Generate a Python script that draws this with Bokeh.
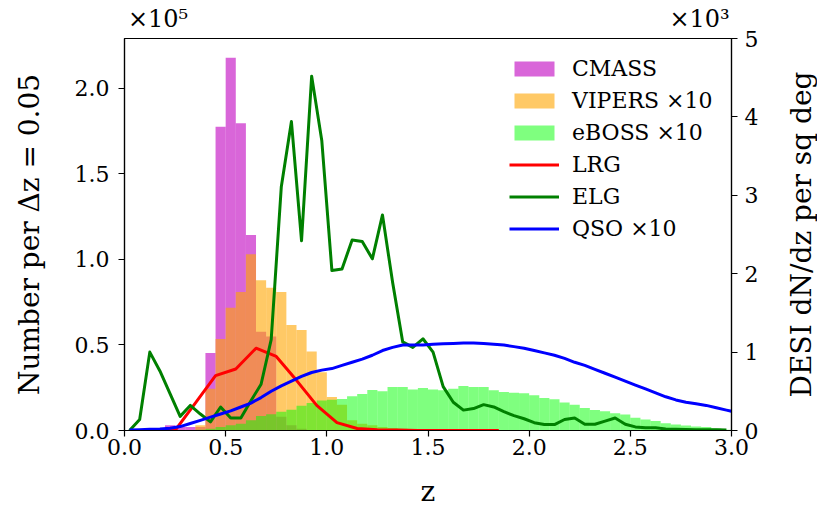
import numpy as np
from bokeh.plotting import figure
from bokeh.layouts import row
from bokeh.models import (Range1d, LinearAxis, FixedTicker, PrintfTickFormatter,
                          CustomJSTickFormatter)
from bokeh.embed import file_html
from bokeh.resources import INLINE

# ---------------- data ----------------
BIN_W = 0.05  # histogram bin width in z

# CMASS histogram (left axis, units of 1e5 per dz=0.05); left bin edges
cmass_edges = [0.20, 0.25, 0.30, 0.35, 0.40, 0.45, 0.50, 0.55, 0.60, 0.65,
               0.70, 0.75, 0.80, 0.85]
cmass_counts = [0.03, 0.02, 0.02, 0.02, 0.453, 1.775, 2.178, 1.796, 1.143, 0.577,
                0.55, 0.08, 0.03, 0.01]

# VIPERS x10 histogram
vipers_edges = [0.35, 0.40, 0.45, 0.50, 0.55, 0.60, 0.65, 0.70, 0.75, 0.80,
                0.85, 0.90, 0.95, 1.00, 1.05, 1.10, 1.15, 1.20, 1.25, 1.30, 1.35]
vipers_counts = [0.03, 0.244, 0.535, 0.717, 0.81, 1.03, 0.878, 0.835, 0.81, 0.616,
                 0.587, 0.461, 0.341, 0.196, 0.15, 0.06, 0.04, 0.03, 0.02, 0.015, 0.01]

# eBOSS x10 histogram
eboss_edges = [0.35, 0.40, 0.45, 0.50, 0.55, 0.60, 0.65, 0.70, 0.75, 0.80,
               0.85, 0.90, 0.95, 1.00, 1.05, 1.10, 1.15, 1.20, 1.25, 1.30,
               1.35, 1.40, 1.45, 1.50, 1.55, 1.60, 1.65, 1.70, 1.75, 1.80,
               1.85, 1.90, 1.95, 2.00, 2.05, 2.10, 2.15, 2.20, 2.25, 2.30,
               2.35, 2.40, 2.45, 2.50, 2.55, 2.60, 2.65, 2.70, 2.75, 2.80,
               2.85, 2.90, 2.95]
eboss_counts = [0.005, 0.01, 0.02, 0.03, 0.04, 0.06, 0.085, 0.095, 0.109, 0.122,
                0.145, 0.161, 0.175, 0.18, 0.184, 0.2, 0.213, 0.236, 0.229, 0.254,
                0.254, 0.239, 0.248, 0.239, 0.235, 0.244, 0.26, 0.254, 0.254, 0.235,
                0.225, 0.221, 0.217, 0.206, 0.19, 0.182, 0.163, 0.151, 0.132, 0.12,
                0.113, 0.101, 0.093, 0.074, 0.064, 0.055, 0.043, 0.035, 0.029, 0.023,
                0.02, 0.012, 0.004]

# DESI LRG dN/dz (right axis, units of 1e3 per sq deg)
lrg_z = [0.05, 0.15, 0.25, 0.35, 0.45, 0.55, 0.65, 0.75, 0.85, 0.95,
         1.05, 1.15, 1.25, 1.35, 1.45, 1.55, 1.65, 1.75, 1.85]
lrg_n = [0.0, 0.0, 0.0, 0.35, 0.70, 0.785, 1.05, 0.945, 0.64, 0.32,
         0.10, 0.025, 0.01, 0.005, 0.0, 0.0, 0.0, 0.0, 0.0]

# DESI ELG dN/dz
elg_z = [0.025, 0.075, 0.125, 0.175, 0.225, 0.275, 0.325, 0.375, 0.425, 0.475,
         0.525, 0.575, 0.625, 0.675, 0.725, 0.775, 0.825, 0.875, 0.925, 0.975,
         1.025, 1.075, 1.125, 1.175, 1.225, 1.275, 1.325, 1.375, 1.425, 1.475,
         1.525, 1.575, 1.625, 1.675, 1.725, 1.775, 1.825, 1.875, 1.925, 1.975,
         2.025, 2.075, 2.125, 2.175, 2.225, 2.275, 2.325, 2.375, 2.425, 2.475,
         2.525, 2.575, 2.625, 2.675, 2.725, 2.775, 2.825, 2.875, 2.925, 2.975]
elg_n = [0.0, 0.14, 1.00, 0.76, 0.47, 0.18, 0.32, 0.21, 0.11, 0.30,
         0.16, 0.16, 0.38, 0.59, 1.16, 3.11, 3.94, 2.42, 4.52, 3.70,
         2.04, 2.06, 2.43, 2.41, 2.19, 2.75, 1.89, 1.13, 1.06, 1.17,
         1.00, 0.56, 0.36, 0.26, 0.28, 0.33, 0.30, 0.24, 0.19, 0.15,
         0.10, 0.076, 0.076, 0.14, 0.16, 0.08, 0.08, 0.12, 0.16, 0.08,
         0.046, 0.034, 0.034, 0.02, 0.017, 0.013, 0.01, 0.008, 0.008, 0.005]

# DESI QSO x10 dN/dz
qso_z = [0.025, 0.075, 0.125, 0.175, 0.225, 0.275, 0.325, 0.375, 0.425, 0.475,
         0.525, 0.575, 0.625, 0.675, 0.725, 0.775, 0.825, 0.875, 0.925, 0.975,
         1.025, 1.075, 1.125, 1.175, 1.225, 1.275, 1.325, 1.375, 1.425, 1.475,
         1.525, 1.575, 1.625, 1.675, 1.725, 1.775, 1.825, 1.875, 1.925, 1.975,
         2.025, 2.075, 2.125, 2.175, 2.225, 2.275, 2.325, 2.375, 2.425, 2.475,
         2.525, 2.575, 2.625, 2.675, 2.725, 2.775, 2.825, 2.875, 2.925, 2.975, 3.025]
qso_n = [0.005, 0.01, 0.015, 0.02, 0.03, 0.05, 0.09, 0.13, 0.17, 0.21,
         0.25, 0.30, 0.35, 0.42, 0.50, 0.57, 0.63, 0.69, 0.74, 0.77,
         0.79, 0.83, 0.87, 0.91, 0.96, 1.02, 1.06, 1.09, 1.09, 1.09,
         1.10, 1.105, 1.11, 1.115, 1.115, 1.11, 1.10, 1.09, 1.07, 1.05,
         1.02, 0.99, 0.96, 0.92, 0.87, 0.83, 0.78, 0.73, 0.68, 0.63,
         0.58, 0.53, 0.48, 0.43, 0.39, 0.36, 0.34, 0.32, 0.29, 0.26, 0.23]

x_ticks = [0.0, 0.5, 1.0, 1.5, 2.0, 2.5, 3.0]
left_ticks = [0.0, 0.5, 1.0, 1.5, 2.0]
right_ticks = [0, 1, 2, 3, 4, 5]
offset_texts = ["×10⁵", "×10³"]      # multipliers of left / right axes
offset_pos = [0.166, 2.842]          # where they sit above the frame (z units)
right_title = "DESI dN/dz per sq deg"

# ---------------- figure ----------------
FONT = "DejaVu Serif"
H = 510
TOP, BOTTOM = 38, 79

p = figure(width=781, height=H,
           x_range=Range1d(0, 3.0), y_range=Range1d(0, 2.291),
           output_backend="svg", toolbar_location=None,
           min_border_left=124, min_border_right=50,
           min_border_top=TOP, min_border_bottom=BOTTOM)
p.extra_y_ranges = {"right": Range1d(0, 5.0)}

bottom_axis = p.below[0]
left_axis = p.left[0]

p.xgrid.visible = False
p.ygrid.visible = False
p.outline_line_color = "black"
p.outline_line_width = 1.2
p.background_fill_color = "white"
p.border_fill_color = "white"


def hist(edges, counts, color, alpha, label):
    left = np.array(edges)
    p.quad(left=left, right=left + BIN_W, bottom=0, top=np.array(counts),
           fill_color=color, fill_alpha=alpha, line_color=None,
           legend_label=label)


hist(cmass_edges, cmass_counts, "#bf00bf", 0.6, "CMASS")
hist(vipers_edges, vipers_counts, "orange", 0.6, "VIPERS ×10")
hist(eboss_edges, eboss_counts, "lime", 0.5, "eBOSS ×10")

p.line(lrg_z, lrg_n, y_range_name="right", line_color="red", line_width=3,
       line_join="round", legend_label="LRG")
p.line(elg_z, elg_n, y_range_name="right", line_color="green", line_width=3,
       line_join="round", legend_label="ELG")
p.line(qso_z, qso_n, y_range_name="right", line_color="blue", line_width=3,
       line_join="round", legend_label="QSO ×10")

right_axis = LinearAxis(y_range_name="right")
p.add_layout(right_axis, "right")

top_axis = LinearAxis()
p.add_layout(top_axis, "above")


def style_axis(ax, ticks, fmt, standoff):
    ax.ticker = FixedTicker(ticks=ticks)
    if fmt is not None:
        ax.formatter = PrintfTickFormatter(format=fmt)
    ax.minor_tick_line_color = None
    ax.major_tick_in = 0
    ax.major_tick_out = 6
    ax.major_tick_line_width = 1.2
    ax.axis_line_width = 1.2
    ax.major_label_text_font = FONT
    ax.major_label_text_font_size = "22px"
    ax.major_label_text_color = "black"
    ax.major_label_standoff = standoff
    ax.axis_label_text_font = FONT
    ax.axis_label_text_font_size = "28px"
    ax.axis_label_text_font_style = "normal"
    ax.axis_label_text_color = "black"


style_axis(bottom_axis, x_ticks, "%.1f", 2)
bottom_axis.axis_label = "z"
bottom_axis.axis_label_standoff = 17

style_axis(left_axis, left_ticks, "%.1f", 9)
left_axis.axis_label = "Number per Δz = 0.05"
left_axis.axis_label_standoff = 26

style_axis(right_axis, right_ticks, "%d", 7)

# top "axis" only carries the offset multipliers
style_axis(top_axis, offset_pos, None, 6)
top_axis.formatter = CustomJSTickFormatter(
    args=dict(texts=offset_texts),
    code="return tick < 1.5 ? texts[0] : texts[1];")
top_axis.major_tick_out = 0
top_axis.major_tick_line_color = None
top_axis.axis_line_color = None
top_axis.major_label_text_font_size = "24px"

lg = p.legend[0]
lg.location = (385, 189)
lg.padding = 0
lg.margin = 0
lg.border_line_alpha = 0
lg.background_fill_alpha = 0
lg.glyph_width = 50
lg.glyph_height = 19
lg.label_height = 26
lg.spacing = 6
lg.label_standoff = 13
lg.label_text_font = FONT
lg.label_text_font_size = "22px"
lg.label_text_color = "black"

# narrow strip to the right whose (tick-less) axis carries the right-axis
# title, reading bottom-to-top and centred on the same frame height
side = figure(width=36, height=H, output_backend="svg", toolbar_location=None,
              x_axis_type=None, x_range=Range1d(0, 1), y_range=Range1d(0, 1),
              min_border_left=32, min_border_right=0,
              min_border_top=TOP, min_border_bottom=BOTTOM,
              outline_line_color=None)
side.background_fill_color = "white"
side.border_fill_color = "white"
side.ygrid.visible = False
sax = side.yaxis[0]
style_axis(sax, [], None, 0)
sax.major_tick_out = 0
sax.major_tick_line_color = None
sax.axis_line_color = None
sax.axis_label = right_title
sax.axis_label_standoff = 0

layout = row(p, side)
open("out.html", "w").write(file_html(layout, INLINE))
